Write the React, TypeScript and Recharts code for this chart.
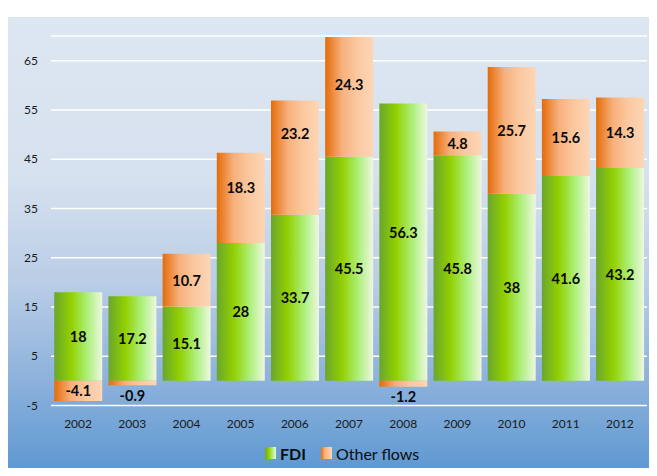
import React from "react";
import { BarChart, Bar, XAxis, YAxis, CartesianGrid, LabelList } from "recharts";

const years = ["2002", "2003", "2004", "2005", "2006", "2007", "2008", "2009", "2010", "2011", "2012"];
const fdi = [18, 17.2, 15.1, 28, 33.7, 45.5, 56.3, 45.8, 38, 41.6, 43.2];
const otherFlows = [-4.1, -0.9, 10.7, 18.3, 23.2, 24.3, -1.2, 4.8, 25.7, 15.6, 14.3];
const yTicks = [-5, 5, 15, 25, 35, 45, 55, 65];

const data = years.map((y, i) => ({ year: y, fdi: fdi[i], other: otherFlows[i] }));

const FONT = "Lato, 'Open Sans', sans-serif";

// small label nudges (pixels) to mimic hand-placed labels in the original
const otherNudge: Record<string, number> = { "2005": -10, "2006": -24, "2007": -12 };
const fdiNudge: Record<string, number> = { "2008": -10 };

const makeLabel = (nudges: Record<string, number>) => (props: any) => {
  const { x, y, width, height, value, index } = props;
  if (value === undefined || value === null) return null;
  const top = Math.min(y, y + height);
  const bottom = Math.max(y, y + height);
  const h = bottom - top;
  let cy = top + h / 2;
  if (h < 12) cy = bottom + 10;
  const yr = years[index];
  if (yr && nudges[yr]) cy += nudges[yr];
  return (
    <text
      x={x + width / 2}
      y={cy}
      textAnchor="middle"
      dominantBaseline="central"
      fontFamily={FONT}
      fontWeight={700}
      fontSize={14.5}
      fill="#0a0a0a"
    >
      {value}
    </text>
  );
};

const Swatch = ({ kind }: { kind: "fdi" | "other" }) => {
  const stops =
    kind === "fdi"
      ? ["#6aa62c", "#92d000", "#aef07e", "#eef7e0"]
      : ["#e46c0a", "#f7b07c", "#fbc79e", "#fdd6b6"];
  return (
    <svg width={11} height={12} style={{ display: "block" }}>
      <defs>
        <linearGradient id={`sw-${kind}`} x1="0" y1="0" x2="1" y2="0">
          <stop offset="0%" stopColor={stops[0]} />
          <stop offset="35%" stopColor={stops[1]} />
          <stop offset="70%" stopColor={stops[2]} />
          <stop offset="100%" stopColor={stops[3]} />
        </linearGradient>
      </defs>
      <rect x={0} y={0} width={11} height={12} fill={`url(#sw-${kind})`} />
    </svg>
  );
};

export default function App() {
  return (
    <div style={{ position: "relative", width: 657, height: 476, margin: -8, overflow: "hidden" }}>
      <div style={{ position: "absolute", left: 6, top: 4, width: 651, height: 3, background: "#8e80c6" }} />
      <div
        style={{
          position: "absolute",
          left: 7,
          top: 17,
          width: 650,
          height: 459,
          background:
            "linear-gradient(to bottom, #dde7f2 0%, #d6e1ef 35%, #b9cde6 58%, #8fb3dc 78%, #5b97d1 100%)",
        }}
      />
      <div style={{ position: "absolute", left: 0, top: 0 }}>
        <BarChart
          width={657}
          height={476}
          data={data}
          stackOffset="sign"
          barCategoryGap="6%"
          margin={{ top: 36, right: 10, bottom: 40.5, left: 0 }}
        >
          <defs>
            <linearGradient id="gFdi" x1="0" y1="0" x2="1" y2="0">
              <stop offset="0%" stopColor="#6aa62c" />
              <stop offset="35%" stopColor="#92d000" />
              <stop offset="70%" stopColor="#aef07e" />
              <stop offset="100%" stopColor="#eef7e0" />
            </linearGradient>
            <linearGradient id="gOther" x1="0" y1="0" x2="1" y2="0">
              <stop offset="0%" stopColor="#e46c0a" />
              <stop offset="35%" stopColor="#f7b07c" />
              <stop offset="65%" stopColor="#fbc79e" />
              <stop offset="100%" stopColor="#fdd6b6" />
            </linearGradient>
          </defs>
          <CartesianGrid vertical={false} stroke="#ffffff" strokeWidth={1.5} />
          <XAxis
            dataKey="year"
            height={30}
            axisLine={false}
            tickLine={false}
            tickMargin={8}
            tick={{ fontFamily: FONT, fontSize: 12, fill: "#1a1a1a" }}
          />
          <YAxis
            width={51}
            domain={[-5, 70]}
            ticks={yTicks}
            allowDataOverflow
            axisLine={false}
            tickLine={false}
            tickMargin={7}
            tick={{ fontFamily: FONT, fontSize: 12, fill: "#1a1a1a" }}
          />
          <Bar dataKey="fdi" name="FDI" stackId="a" fill="url(#gFdi)" isAnimationActive={false}>
            <LabelList dataKey="fdi" content={makeLabel(fdiNudge)} />
          </Bar>
          <Bar dataKey="other" name="Other flows" stackId="a" fill="url(#gOther)" isAnimationActive={false}>
            <LabelList dataKey="other" content={makeLabel(otherNudge)} />
          </Bar>
        </BarChart>
      </div>
      <div
        style={{
          position: "absolute",
          top: 443,
          left: 265,
          display: "flex",
          alignItems: "center",
          fontFamily: FONT,
          fontSize: 16,
          color: "#0d0d0d",
          height: 20,
        }}
      >
        <Swatch kind="fdi" />
        <span style={{ fontWeight: 700, marginLeft: 4, marginRight: 15 }}>FDI</span>
        <Swatch kind="other" />
        <span style={{ marginLeft: 4 }}>Other flows</span>
      </div>
    </div>
  );
}
